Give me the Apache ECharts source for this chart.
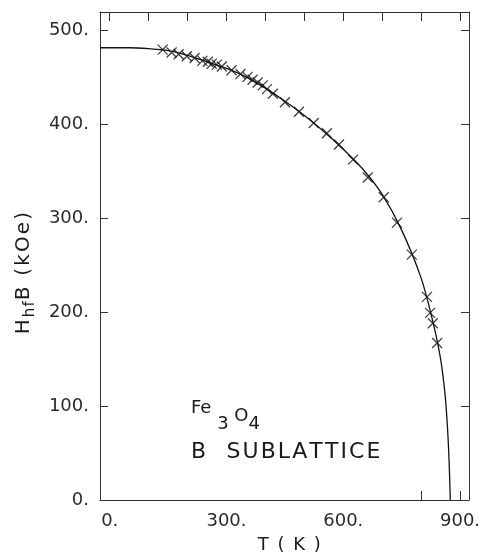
<!DOCTYPE html>
<html>
<head>
<meta charset="utf-8">
<script src="https://cdn.jsdelivr.net/npm/echarts@6/dist/echarts.min.js"></script>
<style>
  html, body { margin: 0; padding: 0; background: #fff; }
  #chart { width: 486px; height: 556px; }
</style>
</head>
<body>
<div id="chart"></div>
<script>
// measured points (T in K, H in kOe)
const pointT = [136, 159, 177, 198, 218, 238, 252, 262, 275, 288, 313, 336, 354, 367, 380, 393,
  404, 419, 450, 486, 524, 558, 589, 625, 663, 704, 738, 776, 815, 823, 830, 841];
const pointH = [479, 476, 474, 472, 470, 467, 466, 464, 463, 461, 457, 453, 450, 447, 444, 441,
  437, 432, 423, 413, 401, 390, 378, 362, 343, 322, 295, 261, 216, 199, 188, 167];

// fitted curve
const curveT = [-25, 0, 50, 100, 150, 200, 250, 300, 350, 400, 450, 500, 550, 600, 650, 700,
  750, 800, 830, 850, 862, 868, 872, 875];
const curveH = [481, 481, 481, 480, 478, 473, 466, 459, 450, 438, 424, 409, 392, 373, 352, 325,
  287, 236, 190, 150, 110, 75, 40, 0];

const xLabels = [0, 300, 600, 900];
const yLabels = [0, 100, 200, 300, 400, 500];
const xTopTicks = [0, 100, 200, 300, 400, 500, 600, 700, 800, 900];
const xBottomTicks = [800, 900];
const yTicks = [100, 200, 300, 400, 500];

const chart = echarts.init(document.getElementById('chart'));

const lineColor = '#333';
const ink = '#1a1a1a';
const labelFont = {
  fontFamily: 'DejaVu Sans',
  fontSize: 18,
  color: '#2a2a2a'
};

const zip = (a, b) => a.map((v, i) => [v, b[i]]);

// spread text out letter by letter (the original uses wide lettering)
const spaced = (str, tag) => str.split('').map(c => `{${tag}|${c}}`).join('');

const option = {
  animation: false,
  grid: { left: 100, right: 17, top: 12, bottom: 56 },
  xAxis: [
    {
      type: 'value',
      min: -25,
      max: 923,
      splitLine: { show: false },
      axisLine: { show: true, onZero: false, lineStyle: { color: lineColor, width: 1 } },
      axisTick: { show: true, inside: true, length: 9, customValues: xBottomTicks, lineStyle: { color: lineColor } },
      axisLabel: { ...labelFont, margin: 12, customValues: xLabels, formatter: v => v + '.' }
    },
    {
      type: 'value',
      position: 'top',
      min: -25,
      max: 923,
      splitLine: { show: false },
      axisLine: { show: true, onZero: false, lineStyle: { color: lineColor, width: 1 } },
      axisTick: { show: true, inside: true, length: 9, customValues: xTopTicks, lineStyle: { color: lineColor } },
      axisLabel: { show: false }
    }
  ],
  yAxis: [
    {
      type: 'value',
      min: 0,
      max: 519,
      splitLine: { show: false },
      axisLine: { show: true, onZero: false, lineStyle: { color: lineColor, width: 1 } },
      axisTick: { show: true, inside: true, length: 8, customValues: yTicks, lineStyle: { color: lineColor } },
      axisLabel: { ...labelFont, margin: 11, customValues: yLabels, formatter: v => v + '.' }
    },
    {
      type: 'value',
      position: 'right',
      min: 0,
      max: 519,
      splitLine: { show: false },
      axisLine: { show: true, onZero: false, lineStyle: { color: lineColor, width: 1 } },
      axisTick: { show: true, inside: true, length: 8, customValues: yTicks, lineStyle: { color: lineColor } },
      axisLabel: { show: false }
    }
  ],
  graphic: [
    {
      type: 'text',
      x: 290,
      y: 545,
      style: {
        text: spaced('T ( K )', 'l'),
        fill: ink,
        textAlign: 'center',
        textVerticalAlign: 'middle',
        rich: {
          l: { fontFamily: 'DejaVu Sans', fontSize: 18, padding: [0, 1.5, 0, 0], fill: ink }
        }
      }
    },
    {
      type: 'text',
      x: 26,
      y: 272,
      rotation: Math.PI / 2,
      style: {
        text: '{a|H}' + spaced('hf', 'b') + spaced('B (kOe)', 'a'),
        fill: ink,
        textAlign: 'center',
        textVerticalAlign: 'middle',
        rich: {
          a: { fontFamily: 'DejaVu Sans', fontSize: 20, lineHeight: 20, verticalAlign: 'top', padding: [0, 2.2, 0, 0], fill: ink },
          b: { fontFamily: 'DejaVu Sans', fontSize: 15, lineHeight: 24, verticalAlign: 'bottom', padding: [0, 1, 0, 0], fill: ink }
        }
      }
    },
    {
      type: 'text',
      left: 191,
      top: 399,
      style: {
        text: '{a|Fe}{b| 3}{o| O}{b|4}',
        fill: ink,
        rich: {
          a: { fontFamily: 'DejaVu Sans', fontSize: 18, lineHeight: 18, verticalAlign: 'top', fill: ink },
          o: { fontFamily: 'DejaVu Sans', fontSize: 18, lineHeight: 18, verticalAlign: 'middle', fill: ink },
          b: { fontFamily: 'DejaVu Sans', fontSize: 18, lineHeight: 34, verticalAlign: 'bottom', fill: ink }
        }
      }
    },
    {
      type: 'text',
      left: 191,
      top: 441,
      style: {
        text: spaced('B  SUBLATTICE', 'l'),
        fill: ink,
        rich: {
          l: { fontFamily: 'DejaVu Sans', fontSize: 22, padding: [0, 2.1, 0, 0], fill: ink }
        }
      }
    }
  ],
  series: [
    {
      name: 'fit',
      type: 'line',
      data: zip(curveT, curveH),
      smooth: 0.3,
      symbol: 'none',
      clip: true,
      lineStyle: { color: '#111', width: 1.3 }
    },
    {
      name: 'data',
      type: 'scatter',
      data: zip(pointT, pointH),
      symbol: 'path://M0,0L10,10M10,0L0,10',
      symbolSize: 10,
      itemStyle: { color: '#111', borderColor: '#111', borderWidth: 1.3 }
    }
  ]
};

chart.setOption(option);
</script>
</body>
</html>
